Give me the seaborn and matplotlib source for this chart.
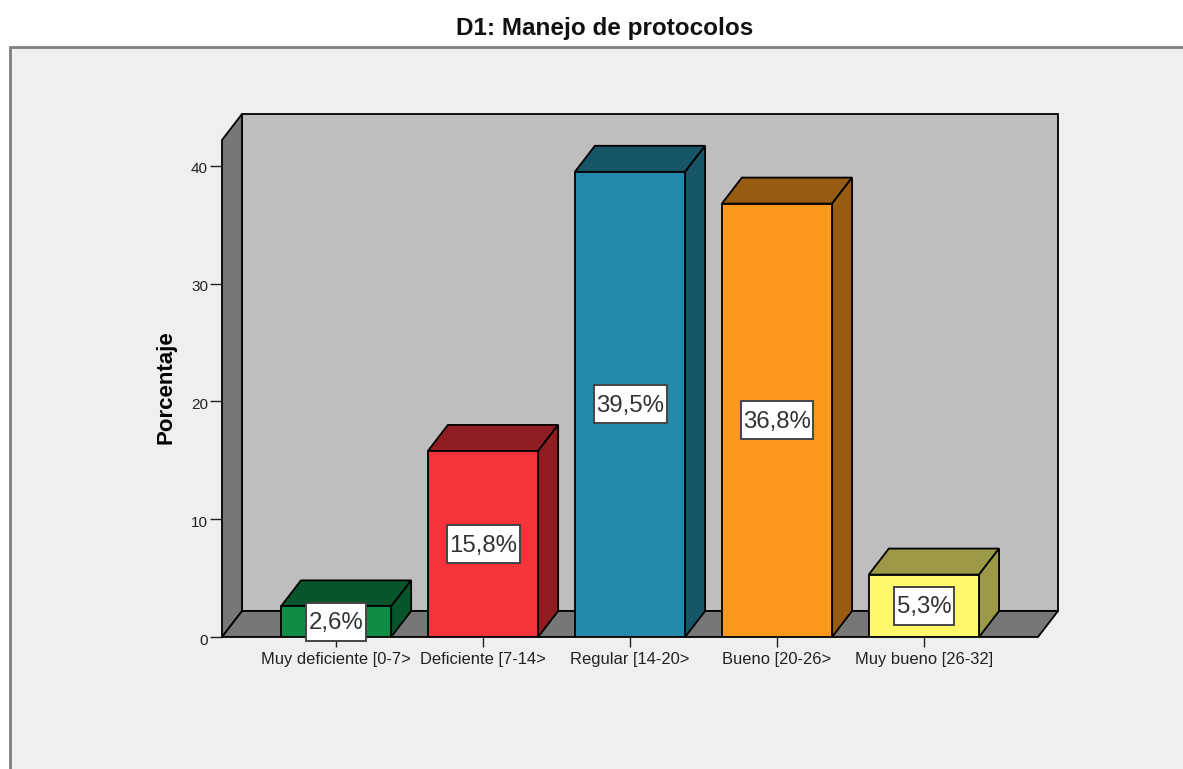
#!/usr/bin/env python3

import matplotlib
matplotlib.use('Agg')
import matplotlib.pyplot as plt
from matplotlib.patches import Polygon, Rectangle
from matplotlib.transforms import IdentityTransform, ScaledTranslation
import seaborn as sns

categories = ['Muy deficiente [0-7>', 'Deficiente [7-14>', 'Regular [14-20>', 'Bueno [20-26>', 'Muy bueno [26-32]']
values = [2.6, 15.8, 39.5, 36.8, 5.3]
front_colors = ['#0F8C46', '#F5333A', '#2589AE', '#FB981D', '#FDF96B']
side_colors = ['#07562B', '#8F1D22', '#175569', '#985B12', '#9C9A47']
y_ticks = [0, 10, 20, 30, 40]

W, H = 1183, 769
sns.set_theme(style='white')
plt.rcParams['font.family'] = ['Liberation Sans', 'DejaVu Sans']

fig = plt.figure(figsize=(W / 100, H / 100), dpi=100, facecolor='white')

# grey chart frame, runs off the right and bottom of the picture
fig.add_artist(Rectangle((10 / W, -0.05), 1.1, 1.05 - 47 / H, transform=fig.transFigure,
                         facecolor='#EFEFEF', edgecolor='#7F7F7F', linewidth=2, zorder=-1))

ax = fig.add_axes([222 / W, (H - 637) / H, 816 / W, 497 / H])
ax.patch.set_alpha(0)

sns.barplot(x=categories, y=values, hue=categories, palette=front_colors, width=0.75,
            edgecolor='black', linewidth=1.3, saturation=1, legend=False, ax=ax, zorder=3)

xmin, xmax = -0.776, 4.776
ymax = 42.2
ax.set_xlim(xmin, xmax)
ax.set_ylim(0, ymax)

# depth of the fake 3d, in data units
dx = 20 / 147
dy = 26 / 11.78
wall_kw = dict(edgecolor='black', linewidth=1.3, clip_on=False, zorder=0.5)
ax.add_patch(Polygon([(xmin + dx, dy), (xmax + dx, dy), (xmax + dx, ymax + dy), (xmin + dx, ymax + dy)],
                     facecolor='#BEBEBE', **wall_kw))
ax.add_patch(Polygon([(xmin, 0), (xmin + dx, dy), (xmin + dx, ymax + dy), (xmin, ymax)],
                     facecolor='#777777', **wall_kw))
ax.add_patch(Polygon([(xmin, 0), (xmax, 0), (xmax + dx, dy), (xmin + dx, dy)],
                     facecolor='#777777', **wall_kw))

renderer = fig.canvas.get_renderer()
half = 0.375
for i, v in enumerate(values):
    l, r = i - half, i + half
    ax.add_patch(Polygon([(l, v), (r, v), (r + dx, v + dy), (l + dx, v + dy)], facecolor=side_colors[i],
                         edgecolor='black', linewidth=1.3, clip_on=False, zorder=2))
    ax.add_patch(Polygon([(r, 0), (r + dx, dy), (r + dx, v + dy), (r, v)], facecolor=side_colors[i],
                         edgecolor='black', linewidth=1.3, clip_on=False, zorder=2))
    label = ax.annotate(f'{v:.1f}%'.replace('.', ','), (i, v / 2), xytext=(0, -1.2), textcoords='offset points',
                        ha='center', va='center', fontsize=17.3, color='#333333', zorder=5,
                        annotation_clip=False)
    # white label box: a bit wider than the text, fixed height, centred on the bar
    cx, cy = ax.transData.transform((i, v / 2))
    box_w = label.get_window_extent(renderer).width + 5
    ax.add_patch(Rectangle((cx - box_w / 2, cy - 19), box_w, 38, transform=IdentityTransform(),
                           facecolor='white', edgecolor='#444444', linewidth=1.4, clip_on=False, zorder=4))

for s in ax.spines.values():
    s.set_visible(False)

ax.set_yticks(y_ticks)
ax.tick_params(axis='y', left=True, length=8.5, width=1, color='#222222', labelsize=11,
               labelcolor='#222222', pad=1.5)
ax.tick_params(axis='x', bottom=True, length=7, width=1, color='#222222', labelsize=11.9,
               labelcolor='#222222', pad=4)
for t in ax.get_yticklabels():
    t.set_transform(t.get_transform() + ScaledTranslation(0, -1.5 / 72, fig.dpi_scale_trans))

ax.set_ylabel('Porcentaje', fontsize=16, fontweight='bold', color='black')
ax.yaxis.set_label_coords(-45 / 816, 250 / 497)

fig.text(605 / W, (H - 28.5) / H, 'D1: Manejo de protocolos', ha='center', va='center',
         fontsize=17.5, fontweight='bold', color='#111111')

fig.savefig('out.png', dpi=100)
plt.close()
